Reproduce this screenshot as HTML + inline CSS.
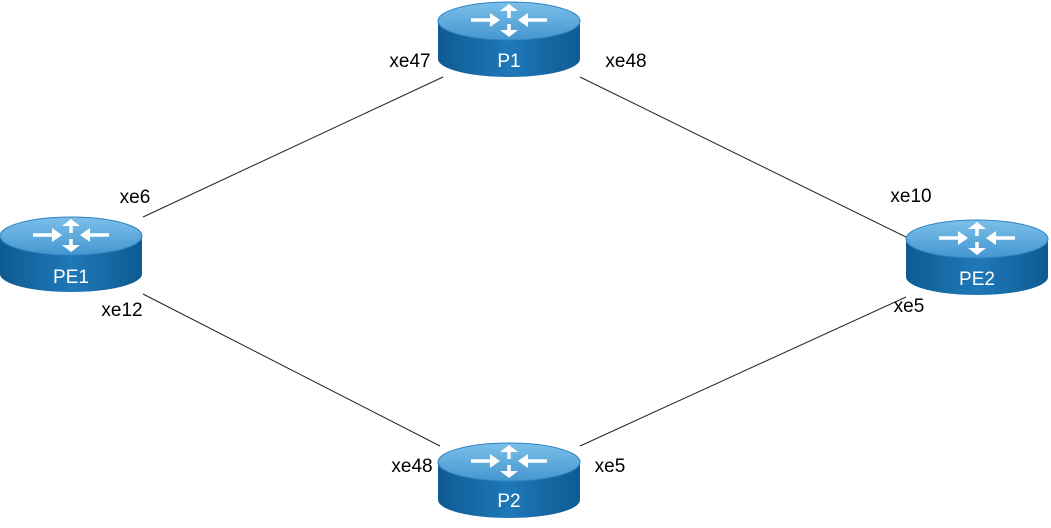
<!DOCTYPE html>
<html><head><meta charset="utf-8"><style>
html,body{margin:0;padding:0;background:#fff;}
svg{display:block}
text{font-family:"Liberation Sans",sans-serif;}
</style></head><body>
<svg width="1051" height="528" viewBox="0 0 1051 528" xmlns="http://www.w3.org/2000/svg">
<defs>
<linearGradient id="body" x1="0" x2="1" y1="0" y2="0">
<stop offset="0" stop-color="#0e5b92"/><stop offset="0.5" stop-color="#1f78b8"/><stop offset="1" stop-color="#0e5b92"/>
</linearGradient>
<linearGradient id="top" x1="0" x2="0" y1="0" y2="1">
<stop offset="0" stop-color="#7cc0ea"/><stop offset="1" stop-color="#4596d0"/>
</linearGradient>
<g id="r">
<path d="M0,19 L0,57 A71,18 0 0 0 142,57 L142,19 Z" fill="url(#body)"/>
<ellipse cx="71" cy="19" rx="71" ry="19" fill="url(#top)" stroke="#2f83c2" stroke-width="1"/>
<g stroke="#fff" stroke-width="3.5" fill="#fff">
<line x1="71" y1="16" x2="71" y2="8"/><polygon points="62,9 80,9 71,2" stroke="none"/>
<line x1="71" y1="22" x2="71" y2="29"/><polygon points="62,28 80,28 71,35" stroke="none"/>
<line x1="33" y1="18" x2="54" y2="18"/><polygon points="52,11 52,25 62,18" stroke="none"/>
<line x1="109" y1="18" x2="88" y2="18"/><polygon points="90,11 90,25 80,18" stroke="none"/>
</g>
</g>
</defs>
<g stroke="#222" stroke-width="1">
<line x1="443" y1="77" x2="143" y2="217"/>
<line x1="580" y1="77" x2="906" y2="237"/>
<line x1="143" y1="294" x2="440" y2="446"/>
<line x1="580" y1="446" x2="906" y2="297"/>
</g>
<use href="#r" x="438" y="2"/>
<use href="#r" x="0" y="217"/>
<use href="#r" x="906" y="220"/>
<use href="#r" x="438" y="443"/>
<g fill="#fff" font-size="19" text-anchor="middle">
<text x="509" y="67">P1</text>
<text x="71" y="283">PE1</text>
<text x="977" y="285">PE2</text>
<text x="509" y="507">P2</text>
</g>
<g fill="#000" font-size="19" text-anchor="middle">
<text x="410" y="67">xe47</text>
<text x="626" y="67">xe48</text>
<text x="135" y="203">xe6</text>
<text x="122" y="316">xe12</text>
<text x="911" y="202">xe10</text>
<text x="909" y="312">xe5</text>
<text x="412" y="472">xe48</text>
<text x="610" y="472">xe5</text>
</g>
</svg>
</body></html>
